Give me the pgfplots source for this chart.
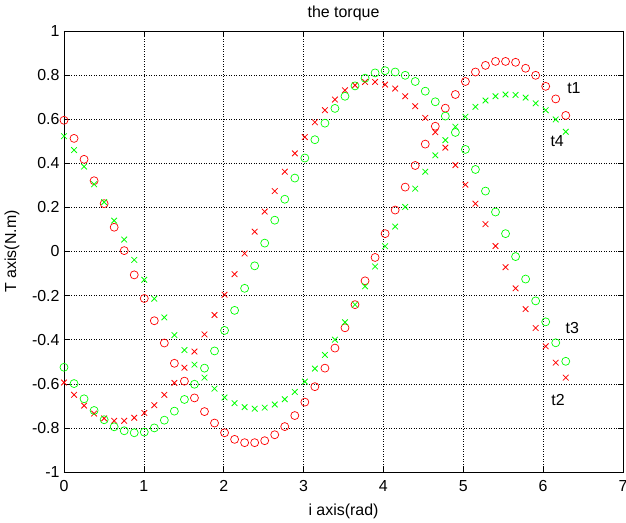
\documentclass[border=0pt]{standalone}
\usepackage{pgfplots}
\pgfplotsset{compat=1.18}
\usepackage{pgfplotstable}
\usepackage{fontspec}
\setmainfont{Liberation Sans}

% x = i*2pi/50, i = 0..50
\pgfplotstableread{
x      t1     t2     t3     t4
0.0000 0.595 -0.594 -0.525 0.523
0.1257 0.513 -0.650 -0.599 0.460
0.2513 0.418 -0.699 -0.668 0.385
0.3770 0.321 -0.735 -0.721 0.305
0.5027 0.217 -0.757 -0.763 0.224
0.6283 0.110 -0.768 -0.795 0.140
0.7540 0.004 -0.768 -0.813 0.054
0.8796 -0.106 -0.754 -0.822 -0.038
1.0053 -0.213 -0.732 -0.819 -0.128
1.1310 -0.314 -0.697 -0.800 -0.214
1.2566 -0.415 -0.650 -0.765 -0.299
1.3823 -0.507 -0.596 -0.724 -0.379
1.5080 -0.588 -0.527 -0.671 -0.447
1.6336 -0.664 -0.454 -0.602 -0.513
1.7593 -0.726 -0.376 -0.529 -0.572
1.8850 -0.778 -0.288 -0.451 -0.622
2.0106 -0.822 -0.196 -0.358 -0.662
2.1363 -0.852 -0.103 -0.267 -0.688
2.2619 -0.867 -0.009 -0.167 -0.706
2.3876 -0.867 0.090 -0.065 -0.713
2.5133 -0.858 0.181 0.038 -0.708
2.6389 -0.831 0.274 0.142 -0.694
2.7646 -0.794 0.362 0.237 -0.670
2.8903 -0.744 0.445 0.333 -0.637
3.0159 -0.683 0.519 0.424 -0.590
3.1416 -0.613 0.586 0.507 -0.531
3.2673 -0.529 0.641 0.582 -0.469
3.3929 -0.438 0.689 0.649 -0.400
3.5186 -0.346 0.731 0.704 -0.321
3.6442 -0.241 0.754 0.751 -0.241
3.7699 -0.133 0.769 0.786 -0.158
3.8956 -0.027 0.769 0.810 -0.068
4.0212 0.081 0.757 0.820 0.024
4.1469 0.188 0.739 0.814 0.113
4.2726 0.292 0.704 0.799 0.202
4.3982 0.390 0.659 0.771 0.285
4.5239 0.487 0.606 0.727 0.362
4.6496 0.568 0.541 0.679 0.436
4.7752 0.650 0.471 0.614 0.505
4.9009 0.712 0.392 0.540 0.566
5.0265 0.771 0.303 0.463 0.611
5.1522 0.814 0.217 0.372 0.656
5.2779 0.844 0.124 0.274 0.685
5.4035 0.862 0.025 0.179 0.704
5.5292 0.862 -0.071 0.081 0.712
5.6549 0.858 -0.167 -0.023 0.710
5.7805 0.831 -0.261 -0.125 0.698
5.9062 0.799 -0.347 -0.224 0.672
6.0319 0.749 -0.430 -0.319 0.641
6.1575 0.692 -0.504 -0.414 0.599
6.2832 0.617 -0.572 -0.498 0.543
}\torque

\begin{document}
\begin{tikzpicture}[font=\fontsize{16}{19}\selectfont]
\begin{axis}[
    scale only axis,
    width=559bp, height=441bp,
    xmin=0, xmax=7, ymin=-1, ymax=1,
    xtick={0,1,...,7},
    ytick={-1,-0.8,...,1},
    /pgf/number format/assume math mode=true,
    tick align=inside,
    major tick length=5bp,
    tick style={black, line width=0.6bp},
    axis line style={black, line width=0.8bp},
    grid=major,
    major grid style={black, line width=0.6bp, dash pattern=on 1bp off 1.5bp},
    xticklabel style={yshift=-5bp},
    yticklabel style={xshift=-1bp},
    clip=false,
]
\addplot[only marks, mark=o, mark size=4bp, red, mark options={line width=0.7bp}] table[x=x, y=t1] {\torque};
\addplot[only marks, mark=x, mark size=4bp, red, mark options={line width=0.8bp}] table[x=x, y=t2] {\torque};
\addplot[only marks, mark=o, mark size=4bp, green, mark options={line width=0.7bp}] table[x=x, y=t3] {\torque};
\addplot[only marks, mark=x, mark size=4bp, green, mark options={line width=0.8bp}] table[x=x, y=t4] {\torque};
\node[anchor=west, inner sep=0pt] at (axis cs:6.30,0.74) {t1};
\node[anchor=west, inner sep=0pt] at (axis cs:6.09,0.50) {t4};
\node[anchor=west, inner sep=0pt] at (axis cs:6.28,-0.347) {t3};
\node[anchor=west, inner sep=0pt] at (axis cs:6.10,-0.675) {t2};
\node[anchor=base, inner sep=0pt] at (rel axis cs:0.5,1.0295) {the torque};
\node[anchor=base, inner sep=0pt] at (rel axis cs:0.5,-0.0975) {i axis(rad)};
\node[rotate=90, anchor=center, inner sep=0pt] at (rel axis cs:-0.093,0.5) {T axis(N.m)};
\coordinate (ll) at (rel axis cs:0,0);
\coordinate (ur) at (rel axis cs:1,1);
\end{axis}
\pgfresetboundingbox
\path ([shift={(-64bp,-51bp)}]ll) rectangle ([shift={(3bp,31bp)}]ur);
\end{tikzpicture}
\end{document}
